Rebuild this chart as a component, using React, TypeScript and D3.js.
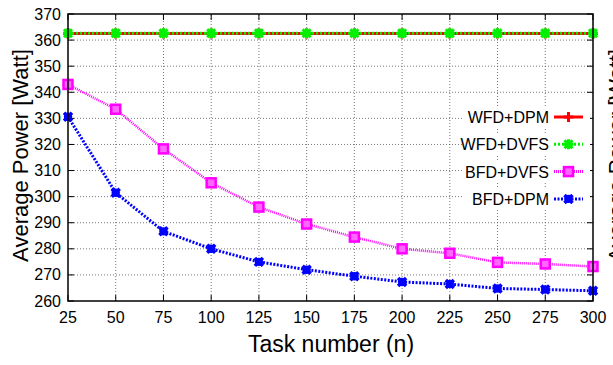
import React, { useRef, useEffect } from 'react';
import * as d3 from 'd3';

const taskNumbers = [25, 50, 75, 100, 125, 150, 175, 200, 225, 250, 275, 300];
const wfdDpm = [362.5, 362.5, 362.5, 362.5, 362.5, 362.5, 362.5, 362.5, 362.5, 362.5, 362.5, 362.5];
const wfdDvfs = [362.6, 362.6, 362.6, 362.6, 362.6, 362.6, 362.6, 362.6, 362.6, 362.6, 362.6, 362.6];
const bfdDvfs = [343, 333.5, 318.3, 305.3, 296, 289.5, 284.5, 280, 278.3, 274.8, 274.2, 273.2];
const bfdDpm = [330.6, 301.5, 286.7, 280, 275, 272, 269.5, 267.3, 266.5, 264.8, 264.4, 263.9];
const yTicks = [260, 270, 280, 290, 300, 310, 320, 330, 340, 350, 360, 370];

const width = 613;
const height = 365;
const margin = { top: 14, right: 20, bottom: 64, left: 68 };

type Series = {
  name: string;
  values: number[];
  color: string;
  dash: string | null;
  marker: 'plus' | 'star' | 'square' | 'dot';
};

const series: Series[] = [
  { name: 'WFD+DPM', values: wfdDpm, color: '#ff0000', dash: null, marker: 'plus' },
  { name: 'WFD+DVFS', values: wfdDvfs, color: '#00f000', dash: '2,2', marker: 'star' },
  { name: 'BFD+DVFS', values: bfdDvfs, color: '#ff00ff', dash: '1,1', marker: 'square' },
  { name: 'BFD+DPM', values: bfdDpm, color: '#0000ff', dash: '2,1.5', marker: 'dot' },
];

const App: React.FC = () => {
  const ref = useRef<SVGSVGElement>(null);

  useEffect(() => {
    const svg = d3.select(ref.current);
    svg.selectAll('*').remove();

    const x = d3
      .scaleLinear()
      .domain([25, 300])
      .range([margin.left, width - margin.right]);
    const y = d3
      .scaleLinear()
      .domain([260, 370])
      .range([height - margin.bottom, margin.top]);

    const font = 'Liberation Sans, Arial, Helvetica, sans-serif';

    // grid
    const grid = svg.append('g').attr('stroke', '#555').attr('stroke-width', 0.8).attr('stroke-dasharray', '1,2');
    grid
      .selectAll('line.gx')
      .data(taskNumbers.slice(1, -1))
      .join('line')
      .attr('x1', (d) => x(d))
      .attr('x2', (d) => x(d))
      .attr('y1', y(260))
      .attr('y2', y(370));
    grid
      .selectAll('line.gy')
      .data(yTicks.slice(1, -1))
      .join('line')
      .attr('x1', x(25))
      .attr('x2', x(300))
      .attr('y1', (d) => y(d))
      .attr('y2', (d) => y(d));

    // ticks (inside, mirrored)
    const tk = svg.append('g').attr('stroke', '#000').attr('stroke-width', 1);
    yTicks.forEach((t) => {
      tk.append('line').attr('x1', x(25)).attr('x2', x(25) + 6).attr('y1', y(t)).attr('y2', y(t));
      tk.append('line').attr('x1', x(300)).attr('x2', x(300) - 6).attr('y1', y(t)).attr('y2', y(t));
    });
    taskNumbers.forEach((t) => {
      tk.append('line').attr('x1', x(t)).attr('x2', x(t)).attr('y1', y(260)).attr('y2', y(260) - 6);
      tk.append('line').attr('x1', x(t)).attr('x2', x(t)).attr('y1', y(370)).attr('y2', y(370) + 6);
    });

    // tick labels
    svg
      .append('g')
      .selectAll('text')
      .data(yTicks)
      .join('text')
      .attr('x', x(25) - 7)
      .attr('y', (d) => y(d) + 5.5)
      .attr('text-anchor', 'end')
      .attr('font-family', font)
      .attr('font-size', 16)
      .text((d) => d);
    svg
      .append('g')
      .selectAll('text')
      .data(taskNumbers)
      .join('text')
      .attr('x', (d) => x(d))
      .attr('y', y(260) + 22)
      .attr('text-anchor', 'middle')
      .attr('font-family', font)
      .attr('font-size', 16)
      .text((d) => d);

    // axis titles
    svg
      .append('text')
      .attr('x', 331)
      .attr('y', 352)
      .attr('text-anchor', 'middle')
      .attr('font-family', font)
      .attr('font-size', 23)
      .text('Task number (n)');
    svg
      .append('text')
      .attr('transform', `translate(28,${(y(260) + y(370)) / 2 - 2}) rotate(-90)`)
      .attr('text-anchor', 'middle')
      .attr('font-family', font)
      .attr('font-size', 22)
      .text('Average Power [Watt]');

    // neighbour chart label peeking in at right edge
    svg
      .append('text')
      .attr('transform', `translate(624,${(y(260) + y(370)) / 2 - 2}) rotate(-90)`)
      .attr('text-anchor', 'middle')
      .attr('font-family', font)
      .attr('font-size', 22)
      .text('Average Power [Watt]');

    const drawMarker = (g: any, s: Series, cx: number, cy: number) => {
      if (s.marker === 'plus') {
        g.append('path')
          .attr('d', `M${cx - 5},${cy}H${cx + 5}M${cx},${cy - 5}V${cy + 5}`)
          .attr('stroke', s.color)
          .attr('stroke-width', 3)
          .attr('fill', 'none');
      } else if (s.marker === 'star') {
        g.append('path')
          .attr('d', `M${cx - 5},${cy}H${cx + 5}M${cx},${cy - 5}V${cy + 5}M${cx - 4},${cy - 4}L${cx + 4},${cy + 4}M${cx - 4},${cy + 4}L${cx + 4},${cy - 4}`)
          .attr('stroke', s.color)
          .attr('stroke-width', 3)
          .attr('fill', 'none');
      } else if (s.marker === 'square') {
        g.append('rect')
          .attr('x', cx - 4.5)
          .attr('y', cy - 4.5)
          .attr('width', 9)
          .attr('height', 9)
          .attr('fill', '#ff66ff')
          .attr('stroke', s.color)
          .attr('stroke-width', 2.5);
      } else {
        g.append('path')
          .attr('d', `M${cx - 4},${cy - 4}L${cx + 4},${cy + 4}M${cx - 4},${cy + 4}L${cx + 4},${cy - 4}`)
          .attr('stroke', s.color)
          .attr('stroke-width', 3.5);
        g.append('circle').attr('cx', cx).attr('cy', cy).attr('r', 4.2).attr('fill', s.color);
      }
    };

    const line = d3
      .line<number>()
      .x((_, i) => x(taskNumbers[i]))
      .y((d) => y(d));

    series.forEach((s) => {
      const g = svg.append('g');
      g.append('path')
        .attr('d', line(s.values))
        .attr('fill', 'none')
        .attr('stroke', s.color)
        .attr('stroke-width', s.marker === 'square' ? 2.5 : 3)
        .attr('stroke-dasharray', s.dash);
      s.values.forEach((v, i) => drawMarker(g, s, x(taskNumbers[i]), y(v)));
    });

    // legend
    const lg = svg.append('g');
    series.forEach((s, i) => {
      const ly = 117 + i * 27.3;
      lg.append('rect').attr('x', 462).attr('y', ly - 11).attr('width', 128).attr('height', 22).attr('fill', '#fff');
      lg.append('text')
        .attr('x', 549)
        .attr('y', ly + 6)
        .attr('text-anchor', 'end')
        .attr('font-family', font)
        .attr('font-size', 16)
        .text(s.name);
      lg.append('line')
        .attr('x1', 554)
        .attr('x2', 583)
        .attr('y1', ly)
        .attr('y2', ly)
        .attr('stroke', s.color)
        .attr('stroke-width', 3)
        .attr('stroke-dasharray', s.dash);
      drawMarker(lg, s, 568.5, ly);
    });

    // frame
    svg
      .append('rect')
      .attr('x', x(25))
      .attr('y', y(370))
      .attr('width', x(300) - x(25))
      .attr('height', y(260) - y(370))
      .attr('fill', 'none')
      .attr('stroke', '#000')
      .attr('stroke-width', 1.5);
  }, []);

  return (
    <svg
      ref={ref}
      width={width}
      height={height}
      style={{ position: 'absolute', left: 0, top: 0, background: '#fff' }}
    />
  );
};

export default App;
